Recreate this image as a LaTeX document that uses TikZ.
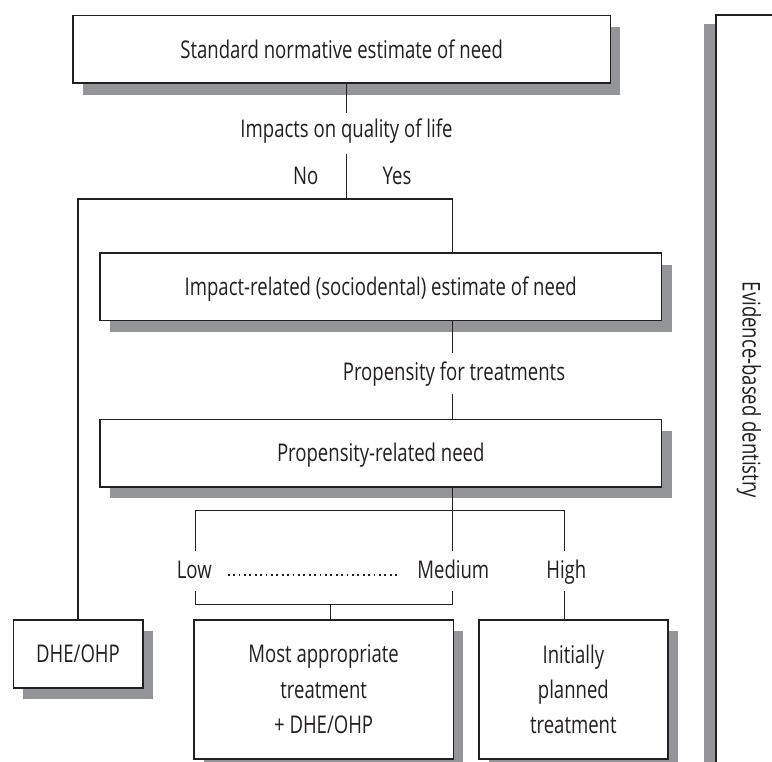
\documentclass[tikz,border=0pt]{standalone}
\usepackage{fontspec}
\setmainfont{Open Sans}[FakeStretch=0.76]
\usetikzlibrary{shadows}
\definecolor{shgray}{HTML}{939598}
\definecolor{ink}{HTML}{231F20}
\newcommand\diagfont{\fontsize{24.4}{35.3}\selectfont}
\tikzset{
  frame/.style={draw=ink, line width=1.6pt, fill=white, inner sep=0pt, align=center, font=\diagfont, text=ink},
  box/.style={frame, drop shadow={shadow xshift=10pt, shadow yshift=-11.7pt, fill=shgray, opacity=1}},
  onebox/.style={box, text height=17.4pt, text depth=0pt},
  ebdbox/.style={frame, drop shadow={shadow xshift=-12.3pt, shadow yshift=-9pt, fill=shgray, opacity=1}},
  conn/.style={draw=ink, line width=1.1pt},
  lbl/.style={inner sep=0pt, font=\diagfont, text=ink, anchor=base},
  dotline/.style={draw=ink, line width=1.8pt, dash pattern=on 1.8pt off 3.6pt},
}
\begin{document}
\begin{tikzpicture}[x=1pt,y=-1pt]
\path[use as bounding box, clip] (0,0) rectangle (772,762);
\fill[white] (0,0) rectangle (772,762);

% boxes
\node[onebox, minimum width=537.3pt, minimum height=67.3pt] (top) at (341.7,49.35) {Standard normative estimate of need};
\node[onebox, minimum width=561.5pt, minimum height=67.7pt] (impact) at (380.75,286.85) {Impact-related (sociodental) estimate of need};
\node[onebox, minimum width=561.5pt, minimum height=67.4pt] (prop) at (380.75,453) {Propensity-related need};
\node[onebox, minimum width=129.4pt, minimum height=68pt] (dhe) at (78,653.7) {DHE/OHP};
\node[box, minimum width=259.3pt, minimum height=139pt] (most) at (323.65,689.2) {Most appropriate\\treatment\\+ DHE/OHP};
\node[box, minimum width=188.7pt, minimum height=139pt] (init) at (573.35,689.2) {Initially\\planned\\treatment};
\node[ebdbox, minimum width=66pt, minimum height=750pt] (ebd) at (749,390) {\rotatebox{-90}{Evidence-based dentistry}};

% labels
\node[lbl] (qol) at (346.5,137.3) {Impacts on quality of life};
\node[lbl] (no) at (305.7,185) {No};
\node[lbl] (yes) at (397,185) {Yes};
\node[lbl] (pft) at (454,380.7) {Propensity for treatments};
\node[lbl] (low) at (194.3,578.7) {Low};
\node[lbl] (med) at (453.3,578.7) {Medium};
\node[lbl] (high) at (566.3,578.7) {High};

% coordinates
\coordinate (q1) at (346.7,113);
\coordinate (q2) at (346.7,154);
\coordinate (j1) at (346.7,199);
\coordinate (jl) at (77.7,199);
\coordinate (jr) at (452.7,199);
\coordinate (p1) at (452.7,353.3);
\coordinate (p2) at (452.7,394);
\coordinate (b0) at (452.7,510.3);
\coordinate (bl) at (195.3,510.3);
\coordinate (br) at (564.7,510.3);
\coordinate (lowtop) at (195.3,551.3);
\coordinate (medtop) at (452.3,551.3);
\coordinate (hightop) at (564.7,551.3);
\coordinate (lowbot) at (195.3,591.3);
\coordinate (medbot) at (452.3,591.3);
\coordinate (highbot) at (564.7,591.3);
\coordinate (mb) at (330.7,604.3);
\coordinate (d1) at (227.7,575.3);
\coordinate (d2) at (396.7,575.3);

% connectors
\draw[conn] (top.south -| q1) -- (q1);
\draw[conn] (q2) -- (j1);
\draw[conn] (dhe.north) -- (dhe.north |- jl) -- (jr) -- (impact.north -| jr);
\draw[conn] (impact.south -| p1) -- (p1);
\draw[conn] (p2) -- (prop.north -| p2);
\draw[conn] (prop.south -| b0) -- (b0);
\draw[conn] (lowtop) -- (bl) -- (br) -- (hightop);
\draw[conn] (b0 -| medtop) -- (medtop);
\draw[conn] (lowbot) |- (mb) -| (medbot);
\draw[conn] (mb) -- (most.north -| mb);
\draw[conn] (highbot) -- (init.north -| highbot);
\draw[dotline] (d1) -- (d2);
\end{tikzpicture}
\end{document}
